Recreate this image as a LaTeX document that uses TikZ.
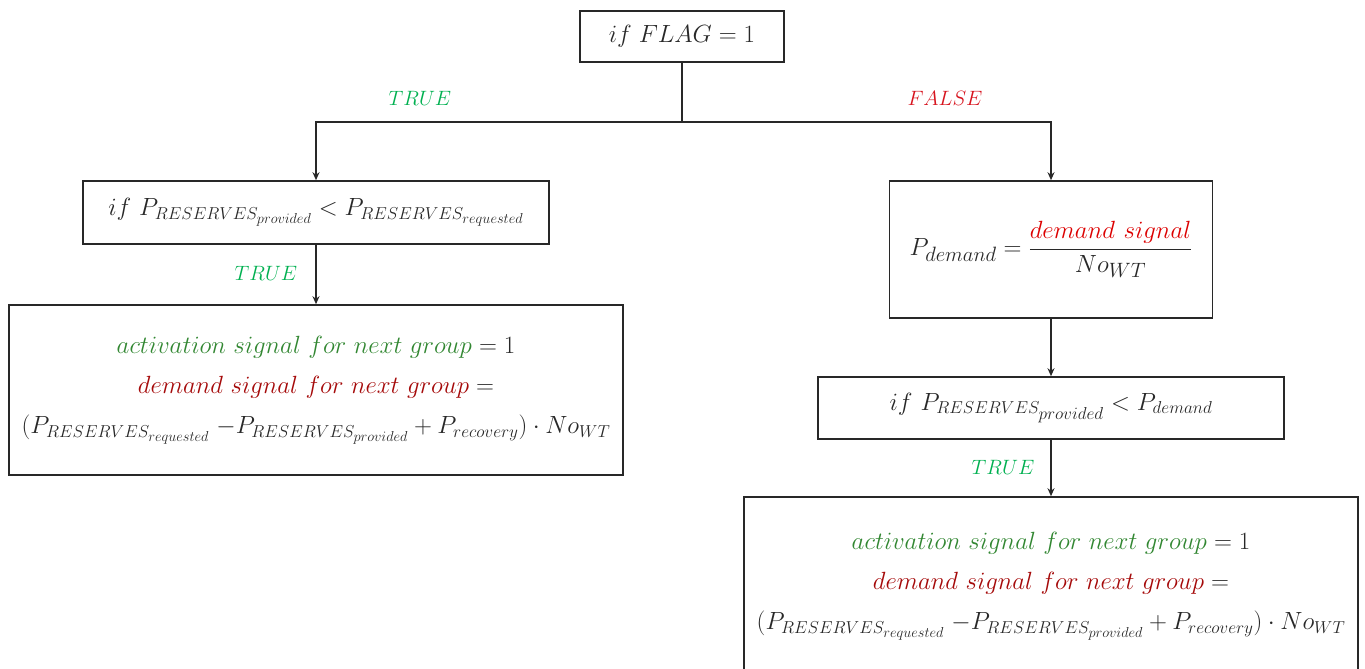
\documentclass[tikz,border=0pt]{standalone}
\usepackage{amsmath}
\usetikzlibrary{arrows.meta}
\DeclareMathSizes{21}{21}{15}{12.5}
\DeclareMathSizes{23}{23}{16}{14}
\DeclareMathSizes{25}{25}{17.5}{15}
\DeclareMathSizes{26}{26}{18.5}{15.5}
\DeclareMathSizes{27}{27}{19}{16}
\DeclareMathSizes{29}{29}{20.5}{17}
\definecolor{truegreen}{RGB}{0,176,80}
\definecolor{falsered}{RGB}{215,20,30}
\definecolor{actgreen}{RGB}{50,135,50}
\definecolor{demdark}{RGB}{165,10,10}
\definecolor{dembright}{RGB}{220,0,0}
\definecolor{ink}{RGB}{40,40,40}
\begin{document}
\begin{tikzpicture}[x=1pt,y=-1pt,
  box/.style={draw=ink, line width=1.6pt, inner sep=0pt, align=center, text=ink,
    font=\fontsize{25}{40}\selectfont},
  arr/.style={draw=ink, line width=1.6pt, -{Stealth[length=8pt,width=7pt]}},
  lnk/.style={draw=ink, line width=1.6pt},
  lbl/.style={font=\fontsize{21}{25}\selectfont}]
\useasboundingbox (0,0) rectangle (1365,669);
\clip (0,0) rectangle (1365,669);
\node[box, minimum width=204pt, minimum height=51pt, font=\fontsize{23}{28}\selectfont] (top) at (682,36.5) {$if\ FLAG=1$};
\coordinate (split) at (682,122);
\node[box, minimum width=466pt, minimum height=63pt, font=\fontsize{26}{30}\selectfont] (lb) at (316,212.5)
  {$if\ P_{RESERVES_{provided}} < P_{RESERVES_{requested}}$};
\node[box, minimum width=614pt, minimum height=170pt] (lbig) at (316,390)
  {$\color{actgreen}activation\ signal\ for\ next\ group\color{ink} = 1$\\
   $\color{demdark}demand\ signal\ for\ next\ group\color{ink} =$\\
   $(P_{RESERVES_{requested}}\;{-}P_{RESERVES_{provided}} + P_{recovery})\cdot No_{WT}$};
\node[box, minimum width=323pt, minimum height=137pt, font=\fontsize{29}{34}\selectfont] (rb1) at (1051,249.5)
  {$P_{demand}=\dfrac{\color{dembright}demand\ signal}{No_{WT}}$};
\node[box, minimum width=466pt, minimum height=62pt, font=\fontsize{27}{32}\selectfont] (rb2) at (1051,408)
  {$if\ P_{RESERVES_{provided}} < P_{demand}$};
\node[box, minimum width=614pt, minimum height=178pt] (rbig) at (1051,586)
  {$\color{actgreen}activation\ signal\ for\ next\ group\color{ink} = 1$\\
   $\color{demdark}demand\ signal\ for\ next\ group\color{ink} =$\\
   $(P_{RESERVES_{requested}}\;{-}P_{RESERVES_{provided}} + P_{recovery})\cdot No_{WT}$};
\draw[lnk] (top.south) -- (split);
\draw[arr] (split) -| (lb.north);
\draw[arr] (split) -| (rb1.north);
\draw[arr] (lb.south) -- (lbig.north);
\draw[arr] (rb1.south) -- (rb2.north);
\draw[arr] (rb2.south) -- (rbig.north);
\node[lbl, text=truegreen] (t1) at (420,98) {$TRUE$};
\node[lbl, text=falsered] (f1) at (945,98) {$FALSE$};
\node[lbl, text=truegreen] (t2) at (266,273) {$TRUE$};
\node[lbl, text=truegreen] (t3) at (1003,467) {$TRUE$};
\end{tikzpicture}
\end{document}
